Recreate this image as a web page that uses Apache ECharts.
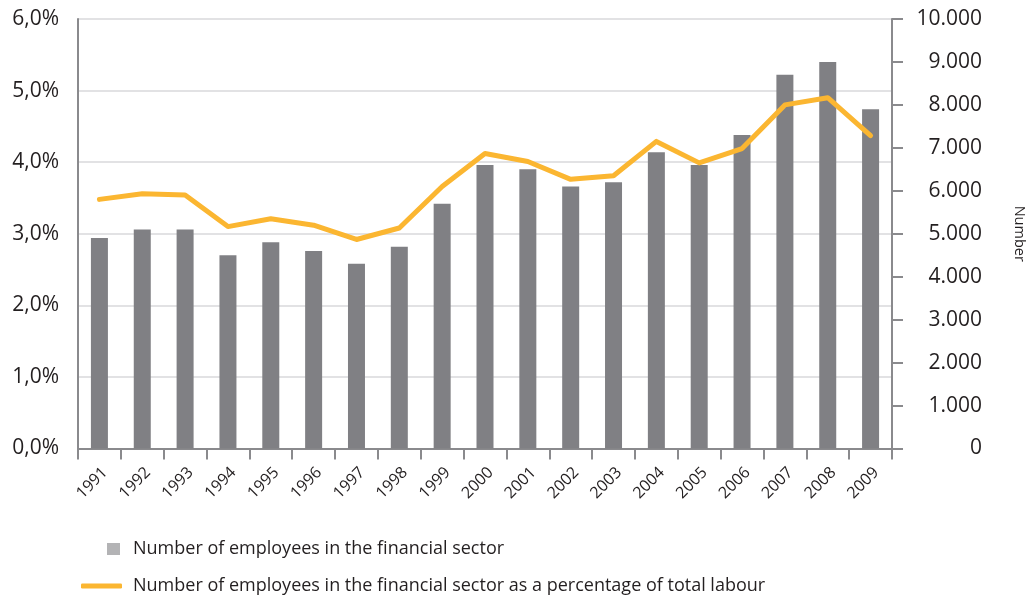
<!DOCTYPE html>
<html>
<head>
<meta charset="utf-8">
<script src="https://cdn.jsdelivr.net/npm/echarts@6/dist/echarts.min.js"></script>
<style>
  html, body { margin: 0; padding: 0; background: #fff; overflow: hidden; }
  #chart { width: 1035px; height: 595px; }
</style>
</head>
<body>
<div id="chart"></div>
<script>
// Financial-sector employment, 1991–2009
const years = ['1991','1992','1993','1994','1995','1996','1997','1998','1999','2000',
               '2001','2002','2003','2004','2005','2006','2007','2008','2009'];
// Number of employees (right axis)
const employees = [4900, 5100, 5100, 4500, 4800, 4600, 4300, 4700, 5700, 6600,
                   6500, 6100, 6200, 6900, 6600, 7300, 8700, 9000, 7900];
// Share of total labour, % (left axis)
const sharePct = [3.48, 3.56, 3.54, 3.10, 3.21, 3.12, 2.92, 3.08, 3.66, 4.12,
                  4.01, 3.76, 3.81, 4.29, 3.99, 4.19, 4.80, 4.90, 4.37];

const barName = 'Number of employees in the financial sector';
const lineName = 'Number of employees in the financial sector as a percentage of total labour';

const FONT = '"Open Sans", sans-serif';
const TEXT = '#231f20';
const AXIS = '#8a8a8d';

const chart = echarts.init(document.getElementById('chart'), null, { renderer: 'canvas' });

chart.setOption({
  animation: false,
  textStyle: { fontFamily: FONT, color: TEXT },
  grid: { left: 78, right: 133, top: 19, bottom: 146.5, containLabel: false },
  legend: [
    {
      data: [{ name: barName, itemStyle: { color: '#b3b3b5' } }],
      left: 102, top: 535, itemWidth: 13, itemHeight: 12, itemGap: 0,
      icon: 'rect',
      textStyle: { fontFamily: FONT, fontSize: 18, color: TEXT, padding: [0, 0, 0, 8] }
    },
    {
      data: [{ name: lineName, itemStyle: { color: '#fbb631' } }],
      left: 76, top: 572, itemWidth: 41, itemHeight: 5, itemGap: 0,
      icon: 'roundRect',
      textStyle: { fontFamily: FONT, fontSize: 18, color: TEXT, padding: [0, 0, 0, 6] }
    }
  ],
  xAxis: {
    type: 'category',
    data: years,
    boundaryGap: true,
    axisLine: { lineStyle: { color: AXIS, width: 2 } },
    axisTick: { show: true, length: 11, lineStyle: { color: AXIS, width: 2 }, alignWithLabel: false },
    axisLabel: {
      rotate: 45, fontSize: 16, color: TEXT, fontFamily: FONT,
      margin: 16, interval: 0, verticalAlign: 'top'
    }
  },
  yAxis: [
    {
      type: 'value', min: 0, max: 6, interval: 1, position: 'left',
      axisLine: { show: true, lineStyle: { color: AXIS, width: 2 } },
      axisTick: { show: false },
      splitLine: { show: true, lineStyle: { color: '#d9d9db', width: 1.5 } },
      axisLabel: {
        fontSize: 21, color: TEXT, fontFamily: FONT, margin: 19,
        formatter: v => v.toFixed(1).replace('.', ',') + '%'
      }
    },
    {
      type: 'value', min: 0, max: 10000, interval: 1000, position: 'right',
      name: 'Number', nameLocation: 'middle', nameRotate: -90, nameGap: 120,
      nameTextStyle: { fontSize: 14.5, color: TEXT, fontFamily: FONT },
      axisLine: { show: true, lineStyle: { color: AXIS, width: 2 } },
      axisTick: { show: true, length: 11, lineStyle: { color: AXIS, width: 2 } },
      splitLine: { show: false },
      axisLabel: {
        fontSize: 21, color: TEXT, fontFamily: FONT, margin: 90, align: 'right',
        formatter: v => String(v).replace(/\B(?=(\d{3})+(?!\d))/g, '.')
      }
    }
  ],
  series: [
    {
      name: barName, type: 'bar', yAxisIndex: 1, data: employees,
      barWidth: 17, itemStyle: { color: '#808084' }
    },
    {
      name: lineName, type: 'line', yAxisIndex: 0, data: sharePct,
      symbol: 'none', lineStyle: { color: '#fbb631', width: 5, cap: 'round', join: 'round' },
      itemStyle: { color: '#fbb631' }, z: 5
    }
  ]
});
</script>
</body>
</html>
